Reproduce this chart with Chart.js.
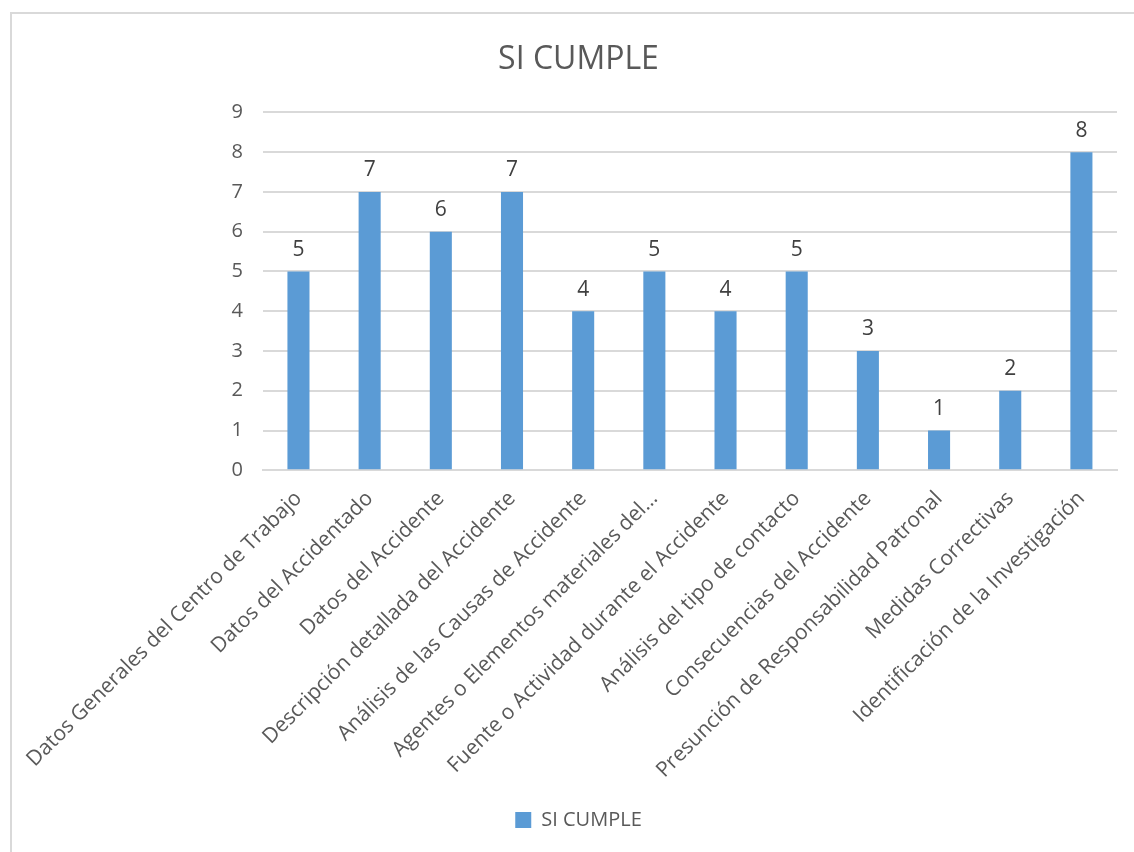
<!DOCTYPE html>
<html>
<head>
<meta charset="utf-8">
<script src="https://cdn.jsdelivr.net/npm/chart.js@4.4.0/dist/chart.umd.min.js"></script>
<style>
  html, body { margin: 0; padding: 0; background: #fff; overflow: hidden; }
  #frame { position: absolute; left: 10px; top: 12px; width: 1140px; height: 860px; border: 2px solid #d9d9d9; background: #fff; }
  #box { position: absolute; left: 0; top: 0; width: 1122px; height: 838px; }
</style>
</head>
<body>
<div id="frame"><div id="box"><canvas id="chart"></canvas></div></div>
<script>
const categories = [
    "Datos Generales del Centro de Trabajo",
    "Datos del Accidentado",
    "Datos del Accidente",
    "Descripción detallada del Accidente",
    "Análisis de las Causas de Accidente",
    "Agentes o Elementos materiales del…",
    "Fuente o Actividad durante el Accidente",
    "Análisis del tipo de contacto",
    "Consecuencias del Accidente",
    "Presunción de Responsabilidad Patronal",
    "Medidas Correctivas",
    "Identificación de la Investigación"
];
const siCumple = [5, 7, 6, 7, 4, 5, 4, 5, 3, 1, 2, 8];
const yTicks = [0, 1, 2, 3, 4, 5, 6, 7, 8, 9];

const FONT = "'Open Sans', sans-serif";
const TEXT = '#595959';

// value labels above each bar
const valueLabels = {
    id: 'valueLabels',
    afterDatasetsDraw(chart) {
        const ctx = chart.ctx;
        const meta = chart.getDatasetMeta(0);
        ctx.save();
        ctx.font = "21px " + FONT;
        ctx.fillStyle = '#404040';
        ctx.textAlign = 'center';
        ctx.textBaseline = 'bottom';
        meta.data.forEach((bar, i) => {
            ctx.fillText(String(chart.data.datasets[0].data[i]), bar.x, bar.y - 11);
        });
        ctx.restore();
    }
};

new Chart(document.getElementById('chart'), {
    type: 'bar',
    data: {
        labels: categories,
        datasets: [{
            label: 'SI CUMPLE',
            data: siCumple,
            backgroundColor: '#5b9bd5',
            barPercentage: 0.62,
            categoryPercentage: 0.5
        }]
    },
    options: {
        responsive: true,
        maintainAspectRatio: false,
        animation: false,
        layout: { padding: { left: 28, right: 17, top: 0, bottom: 12 } },
        plugins: {
            title: {
                display: true,
                text: 'SI CUMPLE',
                color: TEXT,
                font: { family: FONT, size: 32, weight: 'normal' },
                padding: { top: 27, bottom: 33 }
            },
            legend: {
                position: 'bottom',
                labels: {
                    color: TEXT,
                    font: { family: FONT, size: 20 },
                    boxWidth: 16,
                    boxHeight: 16,
                    padding: 11
                }
            },
            tooltip: { enabled: false }
        },
        scales: {
            x: {
                afterFit: axis => { axis.paddingLeft = Math.max(0, axis.paddingLeft - 8); },
                grid: { display: false, drawTicks: false },
                border: { color: '#d9d9d9', width: 2 },
                ticks: {
                    color: TEXT,
                    font: { family: FONT, size: 21 },
                    maxRotation: 45,
                    minRotation: 45,
                    autoSkip: false,
                    padding: 16
                }
            },
            y: {
                min: 0,
                max: 9,
                afterBuildTicks: axis => { axis.ticks = yTicks.map(v => ({ value: v })); },
                afterFit: axis => { axis.width = 218; },
                grid: { color: '#d9d9d9', lineWidth: 2, drawTicks: false },
                border: { display: false },
                ticks: {
                    color: TEXT,
                    font: { family: FONT, size: 20 },
                    padding: 20
                }
            }
        }
    },
    plugins: [valueLabels]
});
</script>
</body>
</html>
